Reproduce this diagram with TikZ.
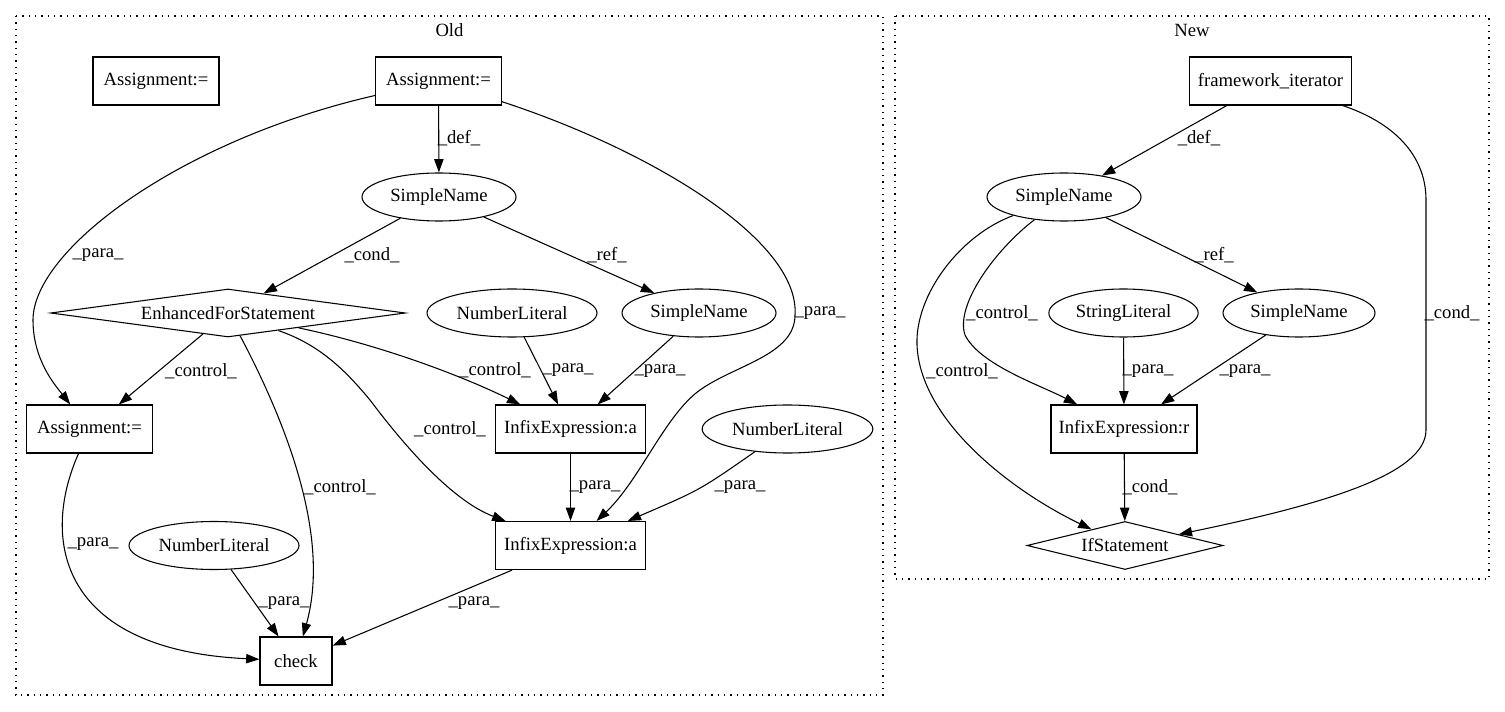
\documentclass[tikz,border=0pt]{standalone}
\usepackage{fontspec}
\setmainfont{Liberation Serif}
\usetikzlibrary{shapes.geometric,arrows.meta}

\begin{document}
\begin{tikzpicture}[x=0.75pt,y=-0.75pt,
  font=\fontsize{14}{16}\selectfont,
  box/.style={draw,line width=0.8pt,rectangle,inner sep=2pt,minimum height=36pt},
  oval/.style={draw,line width=0.8pt,ellipse,inner sep=0pt,minimum height=36pt},
  dmd/.style={draw,line width=0.8pt,diamond,aspect=6,inner sep=0pt,minimum height=36pt},
  edge/.style={line width=0.8pt,-{Triangle[length=10pt,width=7pt]}},
  lbl/.style={inner sep=0pt},
  cluster/.style={line width=0.8pt,dash pattern=on 1pt off 3.75pt}]
                \useasboundingbox (0,0) rectangle (1505,712);

                \draw[cluster] (16,16) rectangle (883,695);
                \node (oldlbl) at (449.5,30) {Old};
                \draw[cluster] (895,16) rectangle (1489,579);
                \node (newlbl) at (1192,30) {New};

                \node[box,minimum width=94.5pt] (asgiso) at (156,81) {Assignment:=};
                \node[box,minimum width=94pt] (asgtop) at (438.5,81) {Assignment:=};
                \node[oval,minimum width=115.5pt] (sname) at (439,197) {SimpleName};
                \node[dmd,minimum width=266pt] (efor) at (228,313) {EnhancedForStatement};
                \node[oval,minimum width=127.5pt] (numlit1) at (512,313) {NumberLiteral};
                \node[oval,minimum width=115.5pt] (sname2) at (699,313) {SimpleName};
                \node[box,minimum width=94pt] (asglow) at (89.5,429) {Assignment:=};
                \node[box,minimum width=112pt] (infixup) at (570.5,429) {InfixExpression:a};
                \node[oval,minimum width=128pt] (numlit2) at (787.5,429) {NumberLiteral};
                \node[box,minimum width=112pt] (infixlow) at (570.5,545.5) {InfixExpression:a};
                \node[oval,minimum width=127.5pt] (numlit3) at (214,545.5) {NumberLiteral};
                \node[box,minimum width=54pt] (check) at (296,661) {check};

                \node[box,minimum width=122pt] (fwit) at (1270.5,81) {framework\_iterator};
                \node[oval,minimum width=115.5pt] (nsname) at (1064,197) {SimpleName};
                \node[oval,minimum width=112pt] (strlit) at (1123.5,313) {StringLiteral};
                \node[oval,minimum width=114pt] (nsname2) at (1299,313) {SimpleName};
                \node[box,minimum width=109.5pt] (infixr) at (1124,429) {InfixExpression:r};
                \node[dmd,minimum width=147pt] (ifst) at (1125,545.5) {IfStatement};

                \draw[edge] (asgtop) -- (sname);
                \draw[edge] (asgtop) .. controls (180,140) and (33,250) .. (33,320)
                    .. controls (33,360) and (55,385) .. (asglow);
                \draw[edge] (asgtop) .. controls (650,150) and (800,240) .. (795,315)
                    .. controls (795,355) and (735,365) .. (700,390)
                    .. controls (665,415) and (640,480) .. (infixlow);
                \draw[edge] (sname) -- (efor);
                \draw[edge] (sname) -- (sname2);
                \draw[edge] (efor) -- (asglow);
                \draw[edge] (efor) .. controls (290,430) and (330,540) .. (check);
                \draw[edge] (efor) .. controls (320,345) and (345,370) .. (370,400)
                    .. controls (400,440) and (450,500) .. (infixlow);
                \draw[edge] (efor) .. controls (380,345) and (460,375) .. (infixup);
                \draw[edge] (numlit1) -- (infixup);
                \draw[edge] (sname2) -- (infixup);
                \draw[edge] (infixup) -- (infixlow);
                \draw[edge] (numlit2) .. controls (700,490) .. (infixlow);
                \draw[edge] (infixlow) -- (check);
                \draw[edge] (numlit3) -- (check);
                \draw[edge] (asglow) .. controls (40,540) and (60,650) .. (check);

                \draw[edge] (fwit) -- (nsname);
                \draw[edge] (fwit) .. controls (1400,125) and (1426,160) .. (1426,200)
                    -- (1426,430) .. controls (1426,475) and (1320,505) .. (ifst);
                \draw[edge] (nsname) -- (nsname2);
                \draw[edge] (nsname) .. controls (995,250) and (955,305) .. (965,335)
                    .. controls (980,365) and (1040,385) .. (infixr);
                \draw[edge] (nsname) .. controls (960,235) and (915,295) .. (917,345)
                    .. controls (920,420) and (1010,490) .. (ifst);
                \draw[edge] (strlit) -- (infixr);
                \draw[edge] (nsname2) -- (infixr);
                \draw[edge] (infixr) -- (ifst);

                \node[lbl] (l1) at (459,138) {\_def\_};
                \node[lbl] (l2) at (98,255) {\_para\_};
                \node[lbl] (l3) at (820,313) {\_para\_};
                \node[lbl] (l4) at (372,255) {\_cond\_};
                \node[lbl] (l5) at (607,255) {\_ref\_};
                \node[lbl] (l6) at (201,371) {\_control\_};
                \node[lbl] (l7) at (340,487) {\_control\_};
                \node[lbl] (l8) at (450,429) {\_control\_};
                \node[lbl] (l9) at (495,370) {\_control\_};
                \node[lbl] (l10) at (568,370) {\_para\_};
                \node[lbl] (l11) at (660,371) {\_para\_};
                \node[lbl] (l12) at (595,487) {\_para\_};
                \node[lbl] (l13) at (740,487) {\_para\_};
                \node[lbl] (l14) at (474,603) {\_para\_};
                \node[lbl] (l15) at (284,603) {\_para\_};
                \node[lbl] (l16) at (93,544) {\_para\_};

                \node[lbl] (n1) at (1199,138) {\_def\_};
                \node[lbl] (n2) at (1452,313) {\_cond\_};
                \node[lbl] (n3) at (1214,255) {\_ref\_};
                \node[lbl] (n4) at (1002,313) {\_control\_};
                \node[lbl] (n5) at (962,371) {\_control\_};
                \node[lbl] (n6) at (1148,371) {\_para\_};
                \node[lbl] (n7) at (1245,371) {\_para\_};
                \node[lbl] (n8) at (1150,487) {\_cond\_};
\end{tikzpicture}
\end{document}
